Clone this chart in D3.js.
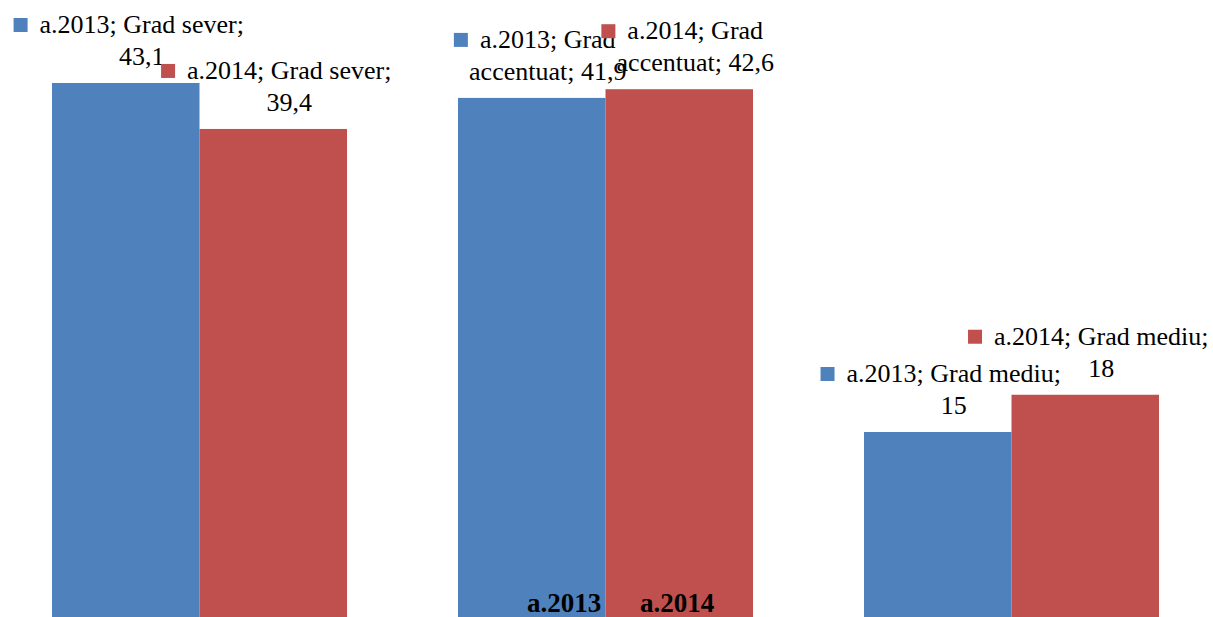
<!DOCTYPE html>
<html>
<head>
<meta charset="utf-8">
<script src="https://cdn.jsdelivr.net/npm/d3@7"></script>
<style>
  html, body { margin: 0; padding: 0; background: #fff; overflow: hidden; }
  svg { display: block; }
  svg text { font-family: "Liberation Serif", "Times New Roman", "DejaVu Serif", serif; }
</style>
</head>
<body>
<svg id="chart" width="1213" height="617"></svg>
<script>
// Degree of disability by year (%)
const categories = ["Grad sever", "Grad accentuat", "Grad mediu"];
const seriesNames = ["a.2013", "a.2014"];
const values2013 = [43.1, 41.9, 15];
const values2014 = [39.4, 42.6, 18];
const seriesColors = ["#4F81BD", "#C0504D"];

const svg = d3.select("#chart");

const seriesValues = [values2013, values2014];
const rows = [];
categories.forEach((c, i) => {
  seriesNames.forEach((s, j) => rows.push({ cat: c, series: s, si: j, value: seriesValues[j][i] }));
});

// Scales
const x0 = d3.scaleBand().domain(categories).range([-3.5, 1214.5])
  .paddingInner(0.2734).paddingOuter(0.1367);
const x1 = d3.scaleBand().domain(seriesNames).range([0, x0.bandwidth()]);
const y = d3.scaleLinear().domain([0, 50]).range([618.3, 618.3 - 12.42 * 50]);

const fmt = d3.formatLocale({ decimal: ",", thousands: ".", grouping: [3], currency: ["", ""] }).format("~g");

// Bars
svg.append("g").selectAll("rect").data(rows).join("rect")
  .attr("x", d => x0(d.cat) + x1(d.series))
  .attr("y", d => y(d.value))
  .attr("width", x1.bandwidth())
  .attr("height", d => y(0) - y(d.value))
  .attr("fill", d => seriesColors[d.si]);

// Data labels: legend key + "series; category; value", wrapped over two lines
const fontSize = 26;
const maxLine = 232;
const labels = svg.append("g").attr("font-size", fontSize).attr("fill", "#000");

rows.forEach(d => {
  const words = `${d.series}; ${d.cat}; ${fmt(d.value)}`.split(" ");
  const g = labels.append("g");
  const probe = g.append("text");
  const lines = [];
  let cur = [];
  words.forEach(w => {
    const test = cur.concat([w]).join(" ");
    probe.text(test);
    if (cur.length && probe.node().getComputedTextLength() > maxLine) {
      lines.push(cur.join(" "));
      cur = [w];
    } else {
      cur.push(w);
    }
  });
  lines.push(cur.join(" "));
  const widths = lines.map(l => { probe.text(l); return probe.node().getComputedTextLength(); });
  probe.remove();

  const sq = 14, gap = 12;
  const textW = d3.max(widths);
  const blockW = sq + gap + textW;
  const cx = x0(d.cat) + x1(d.series) + x1.bandwidth() / 2 + 3;
  const left = cx - blockW / 2;
  const textCx = left + sq + gap + textW / 2;
  const top = y(d.value);
  const lastBase = top - 18;
  const lineH = 32;

  lines.forEach((l, k) => {
    g.append("text")
      .attr("x", textCx)
      .attr("y", lastBase - (lines.length - 1 - k) * lineH)
      .attr("text-anchor", "middle")
      .text(l);
  });
  const firstBase = lastBase - (lines.length - 1) * lineH;
  const firstLeft = textCx - widths[0] / 2;
  g.append("rect")
    .attr("x", firstLeft - gap - sq)
    .attr("y", firstBase - 1 - sq)
    .attr("width", sq).attr("height", sq)
    .attr("fill", seriesColors[d.si]);
});

// Legend along the bottom edge
const legendX = [527, 640];
svg.append("g").selectAll("text").data(seriesNames).join("text")
  .attr("x", (d, i) => legendX[i])
  .attr("y", 612)
  .attr("font-size", 27)
  .attr("font-weight", "bold")
  .attr("fill", "#000")
  .text(d => d);
</script>
</body>
</html>
